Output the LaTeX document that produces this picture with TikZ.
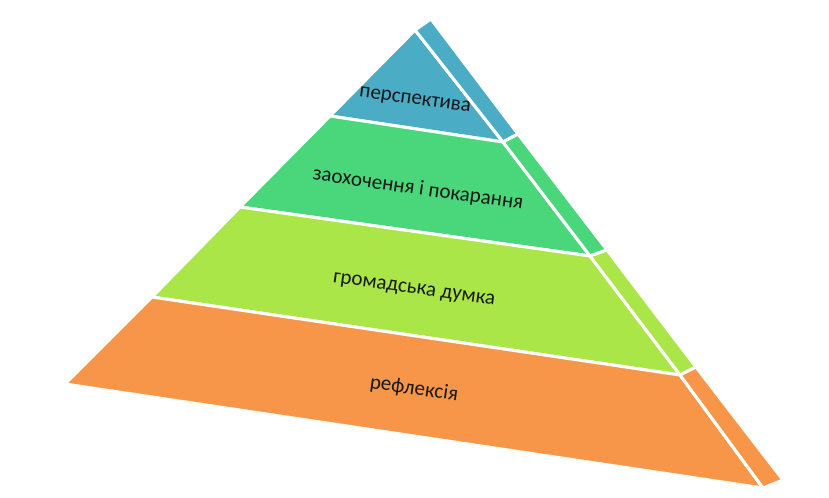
\documentclass[tikz,border=0pt]{standalone}
\usepackage{fontspec}
\setmainfont{Carlito}
\usepackage{tikz}
\usetikzlibrary{calc,positioning}

\definecolor{tierBlue}{RGB}{75,172,198}
\definecolor{tierGreen}{RGB}{74,214,122}
\definecolor{tierLime}{RGB}{170,230,72}
\definecolor{tierOrange}{RGB}{247,150,72}

\begin{document}
\begin{tikzpicture}[x=0.75pt,y=-0.75pt,
    tier/.style={draw=white,line width=2.3pt,line join=round},
    tiertext/.style={font=\fontsize{15.8}{19}\selectfont,rotate=-8,text=black!90}]
  \useasboundingbox (0,0) rectangle (829,497);

  % front face
  \coordinate (p_0) at (415,30);
  \coordinate (l_1) at (330,116);
  \coordinate (r_1) at (503,142);
  \coordinate (l_2) at (240,207);
  \coordinate (r_2) at (590,256);
  \coordinate (l_3) at (152,297);
  \coordinate (r_3) at (680,375);
  \coordinate (l_4) at (65,384);
  \coordinate (r_4) at (763,488);
  % side strip
  \coordinate (s_0) at (431,19);
  \coordinate (s_1) at (518,134);
  \coordinate (s_2) at (607,250);
  \coordinate (s_3) at (696,367);
  \coordinate (s_4) at (783,480);

  \path[tier,fill=tierBlue]   (p_0) -- (r_1) -- (l_1) -- cycle;
  \path[tier,fill=tierGreen]  (l_1) -- (r_1) -- (r_2) -- (l_2) -- cycle;
  \path[tier,fill=tierLime]   (l_2) -- (r_2) -- (r_3) -- (l_3) -- cycle;
  \path[tier,fill=tierOrange] (l_3) -- (r_3) -- (r_4) -- (l_4) -- cycle;

  \path[tier,fill=tierBlue]   (p_0) -- (s_0) -- (s_1) -- (r_1) -- cycle;
  \path[tier,fill=tierGreen]  (r_1) -- (s_1) -- (s_2) -- (r_2) -- cycle;
  \path[tier,fill=tierLime]   (r_2) -- (s_2) -- (s_3) -- (r_3) -- cycle;
  \path[tier,fill=tierOrange] (r_3) -- (s_3) -- (s_4) -- (r_4) -- cycle;

  \node[tiertext] (t_1) at (415,101) {перспектива};
  \node[tiertext] (t_2) at (418,189) {заохочення і покарання};
  \node[tiertext] (t_3) at (414,290) {громадська думка};
  \node[tiertext] (t_4) at (414,389) {рефлексія};
\end{tikzpicture}
\end{document}
